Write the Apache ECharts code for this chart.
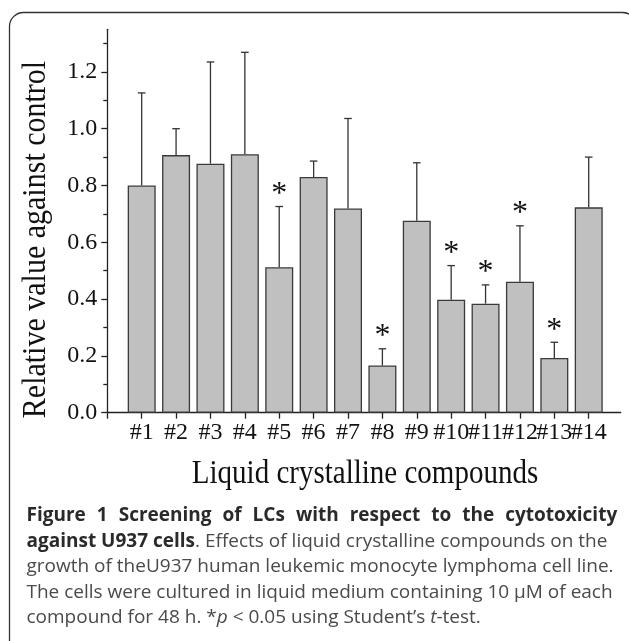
<!DOCTYPE html>
<html><head><meta charset="utf-8">
<script src="https://cdn.jsdelivr.net/npm/echarts@6/dist/echarts.min.js"></script>
<style>html,body{margin:0;padding:0;background:#fff}#c{width:629px;height:641px}</style>
</head><body><div id="c"></div>
<script>
const categories = ['#1','#2','#3','#4','#5','#6','#7','#8','#9','#10','#11','#12','#13','#14'];
const meanValues = [0.800,0.907,0.877,0.910,0.512,0.830,0.719,0.166,0.676,0.398,0.384,0.461,0.193,0.723];
const upperErrorValues = [1.126,1.000,1.235,1.269,0.726,0.886,1.036,0.225,0.880,0.518,0.450,0.658,0.248,0.900];
const significant = [0,0,0,0,1,0,0,1,0,1,1,1,1,0];
const yMajorTicks = [0,0.2,0.4,0.6,0.8,1.0,1.2];
const yMinorTicks = [0.1,0.3,0.5,0.7,0.9,1.1,1.3];
const xTickPositions = [0,1,2,3,4,5,6,7,8,9,10,11,12,13,14];
const xMax = 14.93;
const xLabelPositions = [1,2,3,4,5,6,7,8,9,10,11,12,13,14, xMax];
const yAxisTitle = 'Relative value against control';
const xAxisTitle = 'Liquid crystalline compounds';
const captionLines = [
  '{b|Figure}{s| }{b|1}{s| }{b|Screening}{s| }{b|of}{s| }{b|LCs}{s| }{b|with}{s| }{b|respect}{s| }{b|to}{s| }{b|the}{s| }{b|cytotoxicity}',
  '{b|against U937 cells}{r|. Effects of liquid crystalline compounds on the}',
  '{r|growth of theU937 human leukemic monocyte lymphoma cell line.}',
  '{r|The cells were cultured in liquid medium containing 10 μM of each}',
  '{r|compound for 48 h. *}{i|p}{r| < 0.05 using Student’s }{i|t}{r|-test.}'
];

const serif = '"Liberation Serif", "Times New Roman", serif';
const sans = '"Open Sans", "Noto Sans", sans-serif';
const ink = '#222';

const chart = echarts.init(document.getElementById('c'), null, {renderer:'canvas'});

const capRich = {
  b: {fontFamily: sans, fontWeight: 'bold', fontSize: 19, fill: '#2a2a2a', color: '#2a2a2a'},
  s: {fontFamily: sans, fontWeight: 'bold', fontSize: 19, width: 11, fill: '#2a2a2a', color: '#2a2a2a'},
  r: {fontFamily: sans, fontSize: 19, fill: '#4a4a4a', color: '#4a4a4a'},
  i: {fontFamily: sans, fontSize: 19, fontStyle: 'italic', fill: '#4a4a4a', color: '#4a4a4a'}
};
const lineYs = [516, 541.5, 567, 592.5, 618];

const graphics = [
  {type:'rect', silent:true, z:-10, shape:{x:9.5,y:12.5,width:627,height:720,r:14},
   style:{fill:'none', stroke:'#333', lineWidth:1.3}},
  {type:'text', silent:true, x:36, y:239.5, rotation:Math.PI/2, scaleY:1.14,
   style:{text:yAxisTitle, font:'30px ' + serif, fill:'#111',
          align:'center', verticalAlign:'middle'}},
  {type:'text', silent:true, x:365, y:474, scaleY:1.17,
   style:{text:xAxisTitle, font:'29px ' + serif, fill:'#111',
          align:'center', verticalAlign:'middle'}}
];
captionLines.forEach((t, k) => {
  graphics.push({type:'text', silent:true, x:26.5, y:lineYs[k],
    style:{text:t, rich:capRich, align:'left', verticalAlign:'middle'}});
});

chart.setOption({
  animation: false,
  backgroundColor: '#fff',
  grid: {left:107.3, top:29.3, width:513.4, height:383.4, containLabel:false},
  xAxis: {
    type:'value', min:0, max:xMax,
    axisLine:{show:true, lineStyle:{color:ink, width:1.3}},
    axisTick:{show:true, length:6, customValues:xTickPositions, lineStyle:{color:ink, width:1.3}},
    axisLabel:{customValues:xLabelPositions,
      formatter:v => (Number.isInteger(v) ? (categories[v-1] || '') : ' '),
      hideOverlap:false,
      fontFamily:serif, fontSize:24, color:'#111', margin:8},
    splitLine:{show:false}
  },
  yAxis: [
    {type:'value', min:0, max:1.35, position:'left',
     axisLine:{show:true, lineStyle:{color:ink, width:1.3}},
     axisTick:{show:true, length:6, customValues:yMajorTicks, lineStyle:{color:ink, width:1.3}},
     axisLabel:{customValues:yMajorTicks, formatter:v => v.toFixed(1), showMinLabel:true, showMaxLabel:true,
       fontFamily:serif, fontSize:24, color:'#111', margin:10},
     splitLine:{show:false}},
    {type:'value', min:0, max:1.35, position:'left',
     axisLine:{show:false},
     axisTick:{show:true, length:4, customValues:yMinorTicks, lineStyle:{color:ink, width:1.3}},
     axisLabel:{show:false}, splitLine:{show:false}}
  ],
  graphic: graphics,
  series: [
    {type:'bar', yAxisIndex:0, barWidth:28,
     data: meanValues.map((v,i) => [i+1, v]),
     itemStyle:{color:'#c0c0c0', borderColor:'#3a3a3a', borderWidth:1.3}},
    {type:'custom', yAxisIndex:0,
     data: meanValues.map((v,i) => [i+1, v, upperErrorValues[i], significant[i]]),
     encode:{x:0, y:[1,2]},
     renderItem: function(params, api){
       const x = api.value(0);
       const p0 = api.coord([x, api.value(1)]);
       const p1 = api.coord([x, api.value(2)]);
       const st = {stroke:'#333', lineWidth:1.3};
       const children = [
         {type:'line', shape:{x1:p0[0], y1:p0[1], x2:p1[0], y2:p1[1]}, style:st},
         {type:'line', shape:{x1:p1[0]-3.8, y1:p1[1], x2:p1[0]+3.8, y2:p1[1]}, style:st}
       ];
       if (api.value(3)) {
         children.push({type:'text', style:{text:'*', x:p1[0], y:p1[1]-12,
           align:'center', verticalAlign:'middle', font:'32px ' + serif, fill:'#111'}});
       }
       return {type:'group', children};
     }}
  ]
});
</script></body></html>
